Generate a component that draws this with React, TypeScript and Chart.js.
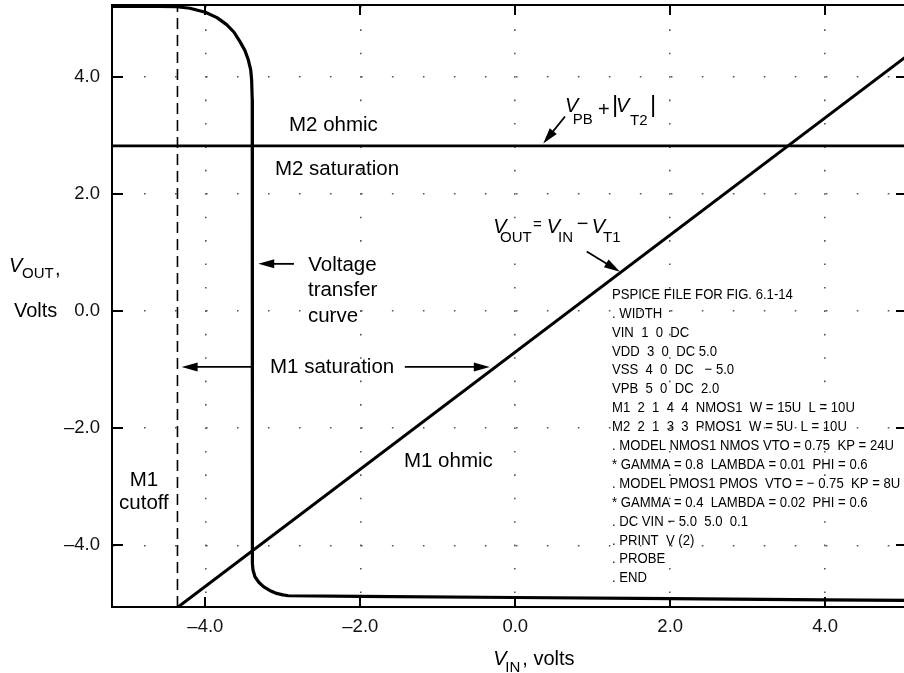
import React, { useEffect, useRef } from 'react';
import { Chart, registerables } from 'chart.js';

Chart.register(...registerables);

const FONT = '"Liberation Sans", Arial, Helvetica, sans-serif';

// Axis limits (volts)
const xMin = -5.205;
const xMax = 5.056;
const yMin = -5.052;
const yMax = 5.225;

// Ticks
const xTickValues = [-4, -2, 0, 2, 4];
const xTickLabels = ['–4.0', '–2.0', '0.0', '2.0', '4.0'];
const yTickValues = [-4, -2, 0, 2, 4];
const yTickLabels = ['–4.0', '–2.0', '0.0', '2.0', '4.0'];

// Voltage transfer curve (VIN, VOUT)
const vtcVin = [-5.205, -4.6, -4.37, -4.2, -4.0, -3.85, -3.725, -3.63, -3.553, -3.49, -3.446, -3.415, -3.403, -3.395, -3.393,
  -3.393, -3.385, -3.36, -3.31, -3.25, -3.17, -3.08, -3.0, -2.93, -2.0, 0, 2, 4, 5.056];
const vtcVout = [5.2, 5.2, 5.195, 5.17, 5.1, 5.01, 4.89, 4.76, 4.6, 4.45, 4.29, 4.12, 3.95, 3.61, 3.3,
  -4.306, -4.42, -4.535, -4.63, -4.705, -4.77, -4.82, -4.845, -4.86, -4.87, -4.89, -4.91, -4.93, -4.94];

// VOUT = VIN - VT1 boundary (M1 ohmic / saturation)
const m1EdgeVin = [-4.352, 5.056];
const m1EdgeVout = [-5.052, 4.356];

// VPB + |VT2| boundary (M2 ohmic / saturation)
const m2EdgeVin = [-5.205, 5.056];
const m2EdgeVout = [2.82, 2.82];

// M1 cutoff boundary (dashed)
const cutoffVin = [-4.36, -4.36];
const cutoffVout = [-5.052, 5.225];

const pspiceLines = [
  'PSPICE FILE FOR FIG. 6.1-14',
  '. WIDTH',
  'VIN  1  0  DC',
  'VDD  3  0  DC 5.0',
  'VSS  4  0  DC   \u2212 5.0',
  'VPB  5  0  DC  2.0',
  'M1  2  1  4  4  NMOS1  W = 15U  L = 10U',
  'M2  2  1  3  3  PMOS1  W = 5U  L = 10U',
  '. MODEL NMOS1 NMOS VTO = 0.75  KP = 24U',
  '* GAMMA = 0.8  LAMBDA = 0.01  PHI = 0.6',
  '. MODEL PMOS1 PMOS  VTO = \u2212 0.75  KP = 8U',
  '* GAMMA = 0.4  LAMBDA = 0.02  PHI = 0.6',
  '. DC VIN \u2212 5.0  5.0  0.1',
  '. PRINT  V (2)',
  '. PROBE',
  '. END',
];

// Region labels (data coordinates)
const regionLabels = [
  { text: 'M2 ohmic', x: -2.921, y: 3.163, align: 'left' },
  { text: 'M2 saturation', x: -3.102, y: 2.412, align: 'left' },
  { text: 'Voltage', x: -2.672, y: 0.789, align: 'left' },
  { text: 'transfer', x: -2.676, y: 0.362, align: 'left' },
  { text: 'curve', x: -2.676, y: -0.082, align: 'left' },
  { text: 'M1 saturation', x: -3.166, y: -0.953, align: 'left' },
  { text: 'M1 ohmic', x: -1.437, y: -2.558, align: 'left' },
  { text: 'M1', x: -4.793, y: -2.893, align: 'center' },
  { text: 'cutoff', x: -4.793, y: -3.288, align: 'center' },
];

// Arrows (data coordinates, from tail to tip)
const arrows = [
  { x1: -2.857, y1: 0.806, x2: -3.317, y2: 0.806 },
  { x1: -3.393, y1: -0.953, x2: -4.306, y2: -0.953 },
  { x1: -1.426, y1: -0.953, x2: -0.329, y2: -0.953 },
  { x1: 0.642, y1: 3.322, x2: 0.361, y2: 2.86 },
  { x1: 0.922, y1: 1.016, x2: 1.351, y2: 0.672 },
];

type Seg = { t: string; dx: number; dy: number; size: number; italic?: boolean };

const vpbLabel: Seg[] = [
  { t: 'V', dx: 0, dy: 0, size: 20, italic: true },
  { t: 'PB', dx: 7.7, dy: 12, size: 15 },
  { t: '+', dx: 33, dy: 4, size: 20 },
  { t: '|', dx: 47, dy: 0, size: 24 },
  { t: 'V', dx: 51, dy: 0, size: 20, italic: true },
  { t: 'T2', dx: 65, dy: 13, size: 15 },
  { t: '|', dx: 85, dy: 0, size: 24 },
];

const voutLabel: Seg[] = [
  { t: 'V', dx: 0, dy: 0, size: 20, italic: true },
  { t: 'OUT', dx: 6.7, dy: 8.4, size: 15 },
  { t: '=', dx: 39.7, dy: -4, size: 15 },
  { t: 'V', dx: 53.4, dy: 0, size: 20, italic: true },
  { t: 'IN', dx: 64.7, dy: 8.4, size: 15 },
  { t: '\u2212', dx: 83.4, dy: -3.6, size: 20 },
  { t: 'V', dx: 98.4, dy: 0, size: 20, italic: true },
  { t: 'T1', dx: 109.7, dy: 8.4, size: 15 },
];

function drawSegs(ctx: CanvasRenderingContext2D, segs: Seg[], x: number, y: number) {
  ctx.textAlign = 'left';
  ctx.textBaseline = 'alphabetic';
  for (const s of segs) {
    ctx.font = `${s.italic ? 'italic ' : ''}${s.size}px ${FONT}`;
    ctx.fillText(s.t, x + s.dx, y + s.dy);
  }
}

function drawArrow(ctx: CanvasRenderingContext2D, x1: number, y1: number, x2: number, y2: number) {
  const ang = Math.atan2(y2 - y1, x2 - x1);
  const L = 16;
  const W = 4.5;
  const bx = x2 - L * Math.cos(ang);
  const by = y2 - L * Math.sin(ang);
  ctx.lineWidth = 1.8;
  ctx.beginPath();
  ctx.moveTo(x1, y1);
  ctx.lineTo(bx + 2 * Math.cos(ang), by + 2 * Math.sin(ang));
  ctx.stroke();
  ctx.beginPath();
  ctx.moveTo(x2, y2);
  ctx.lineTo(bx - W * Math.sin(ang), by + W * Math.cos(ang));
  ctx.lineTo(bx + W * Math.sin(ang), by - W * Math.cos(ang));
  ctx.closePath();
  ctx.fill();
}

const figurePlugin = {
  id: 'figureDecor',
  afterDatasetsDraw(chart: any) {
    const ctx: CanvasRenderingContext2D = chart.ctx;
    const xs = chart.scales.x;
    const ys = chart.scales.y;
    const { left, right, top, bottom } = chart.chartArea;
    const X = (v: number) => xs.getPixelForValue(v);
    const Y = (v: number) => ys.getPixelForValue(v);
    ctx.save();
    ctx.strokeStyle = '#000';
    ctx.fillStyle = '#000';

    // top & right frame
    ctx.lineWidth = 2;
    ctx.beginPath();
    ctx.moveTo(left, top);
    ctx.lineTo(right, top);
    ctx.lineTo(right, bottom);
    ctx.stroke();

    // inward tick marks on all four sides
    ctx.lineWidth = 2;
    ctx.beginPath();
    for (const v of xTickValues) {
      const p = Math.round(X(v));
      ctx.moveTo(p, bottom);
      ctx.lineTo(p, bottom - 10);
      ctx.moveTo(p, top);
      ctx.lineTo(p, top + 10);
    }
    for (const v of yTickValues) {
      const p = Math.round(Y(v));
      ctx.moveTo(left, p);
      ctx.lineTo(left + 11, p);
      ctx.moveTo(right, p);
      ctx.lineTo(right - 11, p);
    }
    ctx.stroke();

    // region labels
    ctx.font = `20.5px ${FONT}`;
    ctx.textBaseline = 'middle';
    for (const l of regionLabels) {
      ctx.textAlign = l.align as CanvasTextAlign;
      ctx.fillText(l.text, X(l.x), Y(l.y));
    }

    // arrows
    for (const a of arrows) drawArrow(ctx, X(a.x1), Y(a.y1), X(a.x2), Y(a.y2));

    // formula labels
    drawSegs(ctx, vpbLabel, X(0.642), Y(3.399));
    drawSegs(ctx, voutLabel, X(-0.284), Y(1.33));

    // PSPICE listing
    ctx.textAlign = 'left';
    ctx.textBaseline = 'middle';
    ctx.font = `15px ${FONT}`;
    const lx = X(1.248);
    const ly = Y(0.279);
    pspiceLines.forEach((line, i) => {
      ctx.save();
      ctx.translate(lx, ly + i * 18.9);
      ctx.scale(0.875, 1);
      ctx.fillText(line, 0, 0);
      ctx.restore();
    });

    // axis titles
    drawSegs(ctx, [
      { t: 'V', dx: 0, dy: 0, size: 20, italic: true },
      { t: 'OUT', dx: 13, dy: 6, size: 15 },
      { t: ',', dx: 46, dy: 3, size: 20 },
    ], left - 103, Y(0) - 39);
    ctx.font = `20px ${FONT}`;
    ctx.textBaseline = 'middle';
    ctx.fillText('Volts', left - 98, Y(0));

    drawSegs(ctx, [
      { t: 'V', dx: 0, dy: 0, size: 20, italic: true },
      { t: 'IN', dx: 12, dy: 7, size: 15 },
      { t: ', volts', dx: 29, dy: 0, size: 20 },
    ], X(0) - 22, bottom + 58);

    ctx.restore();
  },
};

export default function App() {
  const ref = useRef<HTMLCanvasElement>(null);
  useEffect(() => {
    const pts = (xa: number[], ya: number[]) => xa.map((x, i) => ({ x, y: ya[i] }));
    const line = (data: any, width: number, dash: number[] = []) => ({
      data,
      showLine: true,
      borderColor: '#000',
      backgroundColor: '#000',
      borderWidth: width,
      borderDash: dash,
      pointRadius: 0,
      tension: 0,
      fill: false,
      borderJoinStyle: 'round',
    });
    const chart = new Chart(ref.current as HTMLCanvasElement, {
      type: 'scatter',
      data: {
        datasets: [
          line(pts(cutoffVin, cutoffVout), 1.6, [11, 6]) as any,
          line(pts(m2EdgeVin, m2EdgeVout), 2.6) as any,
          line(pts(m1EdgeVin, m1EdgeVout), 3) as any,
          line(pts(vtcVin, vtcVout), 3.2) as any,
        ],
      },
      options: {
        responsive: false,
        animation: false,
        devicePixelRatio: 1,
        layout: { padding: { top: 5, right: 5, left: 0, bottom: 0 } },
        plugins: { legend: { display: false }, tooltip: { enabled: false } },
        scales: {
          x: {
            type: 'linear',
            position: 'bottom',
            min: xMin,
            max: xMax,
            afterBuildTicks: (s: any) => { s.ticks = xTickValues.map((v) => ({ value: v })); },
            afterFit: (s: any) => { s.height = 66; s.paddingLeft = 0; s.paddingRight = 0; },
            ticks: {
              autoSkip: false,
              maxRotation: 0,
              padding: 9,
              color: '#111',
              font: { family: FONT, size: 18.5 },
              callback: (_v: any, i: number) => xTickLabels[i],
            },
            grid: { drawTicks: false, color: '#555', lineWidth: 1.6 },
            border: { display: true, color: '#000', width: 2, dash: [1.6, 21.82], dashOffset: -0.9 },
          },
          y: {
            type: 'linear',
            position: 'left',
            min: yMin,
            max: yMax,
            afterBuildTicks: (s: any) => { s.ticks = yTickValues.map((v) => ({ value: v })); },
            afterFit: (s: any) => { s.width = 112; s.paddingTop = 0; s.paddingBottom = 0; },
            ticks: {
              autoSkip: false,
              padding: 12,
              color: '#111',
              font: { family: FONT, size: 18.5 },
              callback: (_v: any, i: number) => yTickLabels[i],
            },
            grid: { drawTicks: false, color: '#555', lineWidth: 1.6 },
            border: { display: true, color: '#000', width: 2, dash: [1.6, 29.39] },
          },
        },
      } as any,
      plugins: [figurePlugin],
    });
    return () => chart.destroy();
  }, []);
  return (
    <div style={{ position: 'fixed', left: 0, top: 0, width: 904, height: 673, overflow: 'hidden', background: '#fff' }}>
      <canvas ref={ref} width={912} height={673} style={{ display: 'block', width: 912, height: 673 }} />
    </div>
  );
}
